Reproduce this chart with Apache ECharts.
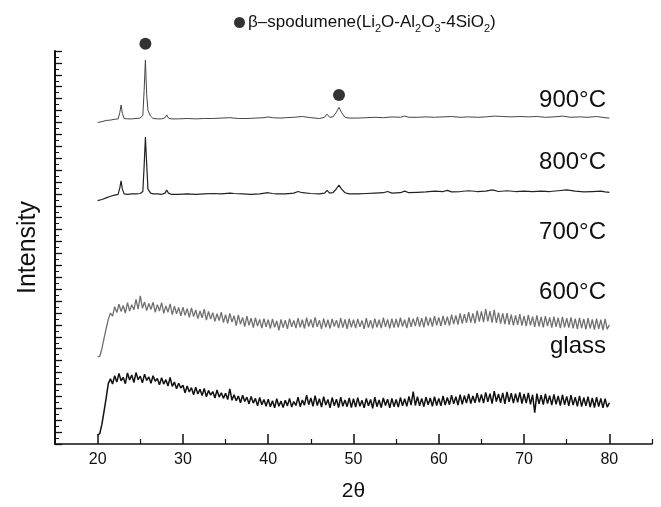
<!DOCTYPE html>
<html>
<head>
<meta charset="utf-8">
<script src="https://cdn.jsdelivr.net/npm/echarts@6/dist/echarts.min.js"></script>
<style>html,body{margin:0;padding:0;background:#fff}#c{width:661px;height:507px}</style>
</head>
<body>
<div id="c"></div>
<script>
// ---- data ----
const xTickLabels = [20, 30, 40, 50, 60, 70, 80];
const xMinorTicks = [25, 35, 45, 55, 65, 75, 85];
const tempLabels = ['900°C', '800°C', '700°C', '600°C', 'glass'];

// regular scan: start 20, step 0.25 deg
const scanStart = 20, scanStep = 0.25;
const glassY = [
2.3,2.6,5.0,8.2,11.6,15.2,16.4,15.1,17.2,15.6,17.8,15.9,16.8,15.2,17.9,16.1,17.4,15.5,18.0,16.2,
17.1,15.4,17.6,16.0,16.9,15.3,17.2,15.8,16.5,14.9,16.7,15.1,16.2,14.6,16.8,14.5,15.6,13.9,15.3,14.1,
14.8,12.9,14.6,13.1,14.2,12.4,14.3,12.6,13.8,12.2,14.0,11.9,13.5,12.3,13.2,11.6,13.6,11.8,12.9,11.5,
12.8,11.2,13.9,11.0,12.4,10.9,12.1,10.4,12.3,10.7,11.8,10.1,12.0,10.3,11.5,9.6,11.7,9.9,11.2,9.5,
11.3,9.4,10.9,9.1,11.4,9.5,10.8,9.2,11.0,9.6,11.5,9.3,10.7,9.7,11.8,9.4,11.1,9.8,12.3,9.9,
11.6,9.5,12.2,9.7,11.4,9.3,11.9,9.8,11.2,9.1,11.7,9.6,11.3,9.2,11.8,9.5,11.1,9.4,11.6,9.2,
11.4,9.3,11.7,9.5,11.0,9.1,11.5,9.6,11.2,9.0,11.8,9.4,11.1,9.2,11.6,9.7,11.3,9.1,11.5,9.4,
11.2,9.3,11.7,9.6,11.4,9.5,12.0,9.8,13.2,9.7,11.9,9.6,11.5,9.4,11.8,9.9,11.6,9.5,11.9,9.7,
11.5,9.6,12.1,9.8,11.7,9.9,12.3,10.1,11.9,9.8,12.4,10.0,12.2,10.3,12.6,10.2,12.1,10.4,12.8,10.5,
12.5,10.3,13.0,10.6,12.7,10.2,13.3,10.7,12.6,10.4,12.9,10.1,13.1,10.6,12.8,10.3,12.7,10.5,13.0,10.2,
12.6,10.3,12.9,10.0,12.4,7.9,12.7,10.1,12.3,9.9,12.6,10.2,12.2,9.8,12.5,10.0,12.1,9.7,12.4,9.9,
12.0,9.6,12.3,9.8,11.8,9.5,12.1,9.4,11.7,9.6,11.9,9.3,11.6,9.2,11.8,9.4,11.5,9.1,11.4,9.3,
10.4];
const t600Y = [
22.0,22.1,24.0,26.6,29.1,31.4,33.0,32.2,34.6,33.1,35.2,33.4,34.9,33.0,35.6,33.5,35.1,33.8,36.4,34.0,
37.3,34.2,35.8,33.6,35.4,33.9,35.7,33.2,35.1,33.5,35.6,32.9,34.8,33.2,35.3,32.6,34.7,32.8,34.4,32.3,
34.5,32.4,34.1,31.9,34.3,32.1,33.8,31.6,33.5,31.8,34.0,31.2,33.4,31.5,33.1,30.9,32.8,31.1,33.2,30.6,
32.6,30.4,32.9,30.7,32.3,29.8,32.5,30.2,31.9,29.6,32.2,29.9,31.7,29.3,31.8,29.7,31.4,29.2,31.6,29.5,
31.3,29.1,31.5,29.4,31.0,28.6,31.4,29.3,31.2,29.0,31.6,29.5,31.1,29.2,31.7,29.4,31.3,29.1,31.8,29.6,
31.4,29.3,31.9,29.5,31.2,29.0,31.6,29.4,31.3,29.1,31.5,29.6,31.2,29.2,31.7,29.3,31.4,29.0,31.6,29.4,
31.3,29.2,31.5,29.5,31.1,29.0,31.7,29.3,31.2,29.1,31.6,29.4,31.3,29.2,31.8,29.5,31.4,29.1,31.6,29.3,
31.5,29.4,31.8,29.6,31.3,29.2,31.9,29.5,31.6,29.7,32.0,29.6,31.7,29.4,32.1,29.8,31.8,29.6,32.2,29.9,
31.9,29.7,32.3,30.0,32.1,29.8,32.6,30.2,32.4,30.1,32.9,30.3,32.7,30.5,33.2,30.6,32.9,30.4,33.6,30.8,
33.4,30.7,34.0,30.9,33.5,30.6,33.8,30.5,33.1,30.3,32.9,30.2,33.0,30.1,32.6,29.9,32.4,30.0,32.7,29.8,
32.3,29.7,32.5,29.9,32.1,29.5,32.4,29.6,32.0,29.4,32.2,29.7,31.9,29.3,32.1,29.5,31.8,29.2,32.0,29.4,
31.7,29.3,31.9,29.1,31.6,29.0,31.8,29.2,31.5,28.9,31.7,29.1,31.4,28.8,31.6,29.0,31.3,28.7,31.5,28.9,
30.0];

const t800X = [20,20.5,21,21.5,22,22.4,22.6,22.75,22.9,23.1,23.5,24,24.5,25,25.3,25.45,25.6,25.75,25.9,26.2,26.5,27,27.5,27.9,28.1,28.3,28.6,29.5,30.5,31.5,32.5,33.5,34.5,35.5,36,37,38,39,40,40.5,41,42,43,43.5,44,45,46,46.6,46.9,47.2,47.6,48.0,48.3,48.6,49,49.5,50.5,51.5,52.5,53.5,54,54.5,55.5,56,56.5,57.5,58.5,59.5,60.5,61,61.5,62.5,63.5,64.5,65.5,66.3,67,68,69,70,71,72,73,74,75,76,77,78,79,79.5,80];
const t800Y = [61.3,61.6,62.0,62.4,62.7,62.9,64.5,66.3,64.2,63.0,62.9,63.0,63.0,63.1,63.6,70.0,77.3,70.5,64.2,63.2,63.0,63.0,62.9,63.2,64.0,63.2,62.9,62.9,63.0,62.9,63.0,63.1,63.0,63.2,63.1,63.0,62.9,63.0,63.3,63.1,63.0,63.0,63.2,63.6,63.3,63.1,63.0,63.2,63.9,63.2,63.3,64.3,65.2,64.2,63.3,63.0,63.0,63.1,63.2,63.3,63.6,63.2,63.3,63.7,63.3,63.4,63.5,63.7,63.6,63.9,63.5,63.6,63.8,63.6,63.7,64.0,63.6,63.8,63.6,63.7,63.6,63.7,63.6,63.8,64.0,63.7,63.5,63.6,63.7,63.5,63.4];

const t900X = [20,20.5,21,21.5,22,22.4,22.6,22.75,22.9,23.1,23.5,24,24.5,25,25.3,25.45,25.6,25.75,25.9,26.0,26.2,26.5,27,27.5,27.9,28.1,28.3,28.6,29.5,30.5,31.5,32.5,33.5,34.5,35.5,36.5,37.5,38.5,39.5,40,40.5,41.5,42,43,44,45,46,46.6,46.9,47.2,47.6,48.0,48.3,48.6,49,49.5,50.5,51.5,52.5,53.5,54.5,55.5,56,56.5,57.5,58.5,59.5,60.5,61.5,62.5,63.5,64.5,65.5,66.5,67.5,68.5,69.5,70.5,71.5,72.5,73.5,74.5,75.5,76.5,77.5,78.5,79.5,80];
const t900Y = [81.0,81.2,81.5,81.6,81.8,81.9,83.5,85.4,83.3,82.0,81.9,81.9,82.0,82.1,82.8,89.0,96.7,88.0,84.0,84.5,82.6,82.0,81.9,81.9,82.2,82.9,82.1,81.9,81.9,82.0,81.9,82.0,82.0,82.1,82.2,82.0,82.0,82.1,82.2,82.4,82.2,82.1,82.2,82.3,82.5,82.2,82.0,82.3,83.1,82.3,82.4,83.6,84.8,83.5,82.3,82.1,82.1,82.2,82.3,82.2,82.4,82.3,82.6,82.3,82.3,82.4,82.3,82.4,82.5,82.3,82.4,82.3,82.4,82.6,82.5,82.4,82.5,82.4,82.5,82.3,82.4,82.6,82.3,82.4,82.3,82.5,82.2,82.1];

const peakX = [25.6, 48.3];
const peakY = [100.8, 87.9];

// ---- build ----
const scan = ys => ys.map((v, i) => [scanStart + i * scanStep, v]);
const pair = (xs, ys) => xs.map((x, i) => [x, ys[i]]);

const FONT = 'Liberation Sans, Arial, sans-serif';
const chart = echarts.init(document.getElementById('c'), null, {renderer: 'canvas'});

const labelYs = [100, 162, 232, 292, 346];

chart.setOption({
  animation: false,
  backgroundColor: '#fff',
  grid: {left: 55, right: 9, top: 51, bottom: 61, containLabel: false},
  legend: {
    data: [{name: 'spod', icon: 'circle'}],
    left: 229, top: 9,
    itemWidth: 11, itemHeight: 11, itemGap: 3,
    formatter: () => '{n|β–spodumene(Li}{s|2}{n|O-Al}{s|2}{n|O}{s|3}{n|-4SiO}{s|2}{n|)}',
    textStyle: {
      color: '#111', fontFamily: FONT, padding: [0, 0, 0, -2],
      rich: {
        n: {fontSize: 17, fontFamily: FONT, color: '#111', lineHeight: 24, verticalAlign: 'middle'},
        s: {fontSize: 11, fontFamily: FONT, color: '#111', lineHeight: 11, verticalAlign: 'bottom', padding: [9, 0, 0, 0]}
      }
    }
  },
  xAxis: [{
    type: 'value', min: 15, max: 85, interval: 5,
    position: 'bottom',
    axisLine: {show: true, lineStyle: {color: '#111', width: 1.5}},
    axisTick: {show: true, inside: true, length: 10, customValues: xTickLabels, lineStyle: {color: '#111', width: 1.5}},
    axisLabel: {show: true, customValues: xTickLabels, margin: 8, color: '#111', fontSize: 16, fontFamily: FONT},
    splitLine: {show: false},
    name: '2θ', nameLocation: 'middle', nameGap: 37,
    nameTextStyle: {fontSize: 21, fontFamily: FONT, color: '#111'}
  }, {
    type: 'value', min: 15, max: 85, interval: 5,
    position: 'bottom', gridIndex: 0,
    axisLine: {show: false},
    axisTick: {show: true, inside: true, length: 5, customValues: xMinorTicks, lineStyle: {color: '#111', width: 1.2}},
    axisLabel: {show: false},
    splitLine: {show: false}
  }],
  yAxis: {
    type: 'value', min: 0, max: 99, interval: 3,
    axisLine: {show: true, lineStyle: {color: '#111', width: 2}},
    axisTick: {show: true, inside: true, length: 7, lineStyle: {color: '#111', width: 1.3}},
    minorTick: {show: true, splitNumber: 2, length: 4, lineStyle: {color: '#111', width: 1}},
    axisLabel: {show: false},
    splitLine: {show: false},
    name: 'Intensity', nameLocation: 'middle', nameGap: 14,
    nameTextStyle: {fontSize: 25, fontFamily: FONT, color: '#111'}
  },
  series: [
    {type: 'line', name: 'glass', data: scan(glassY), showSymbol: false, symbol: 'none',
     lineStyle: {color: '#111', width: 1.5}},
    {type: 'line', name: '600', data: scan(t600Y), showSymbol: false, symbol: 'none',
     lineStyle: {color: '#707070', width: 1.3}},
    {type: 'line', name: '800', data: pair(t800X, t800Y), showSymbol: false, symbol: 'none',
     lineStyle: {color: '#222', width: 1.2}},
    {type: 'line', name: '900', data: pair(t900X, t900Y), showSymbol: false, symbol: 'none',
     lineStyle: {color: '#444', width: 1}},
    {type: 'scatter', name: 'spod', data: pair(peakX, peakY), symbol: 'circle', symbolSize: 12,
     clip: false, itemStyle: {color: '#000'}}
  ],
  graphic: tempLabels.map((t, i) => ({
    type: 'text', x: 606, y: labelYs[i],
    style: {text: t, fontSize: 24, fontFamily: FONT, fill: '#111', align: 'right', verticalAlign: 'middle'}
  }))
});
</script>
</body>
</html>
